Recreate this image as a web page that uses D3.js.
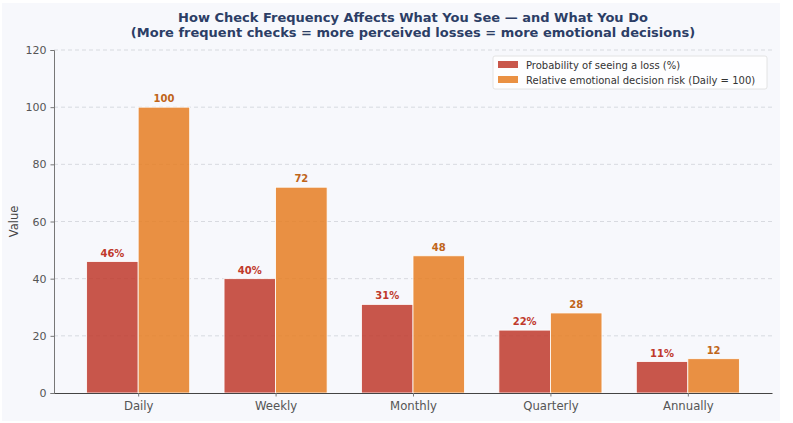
<!DOCTYPE html>
<html>
<head>
<meta charset="utf-8">
<script src="https://cdn.jsdelivr.net/npm/d3@7"></script>
<style>
  body { margin: 0; background: #fff; font-family: "DejaVu Sans", sans-serif; }
</style>
</head>
<body>
<div id="chart"></div>
<script>
var categories = ["Daily", "Weekly", "Monthly", "Quarterly", "Annually"];
var lossProb = [46, 40, 31, 22, 11];
var emotionalRisk = [100, 72, 48, 28, 12];
var seriesNames = ["Probability of seeing a loss (%)", "Relative emotional decision risk (Daily = 100)"];
var yTicks = [0, 20, 40, 60, 80, 100, 120];

var width = 793, height = 423;
var margin = {left: 54, right: 21, top: 50, bottom: 30};
var colors = ["#c0392b", "#e67e22"];
var labelColors = ["#c0392b", "#c0651a"];

var svg = d3.select("#chart").append("svg").attr("width", width).attr("height", height);

// light figure background
svg.append("rect").attr("x", 2).attr("y", 3).attr("width", 778).attr("height", 418).attr("fill", "#f7f8fc");

var x = d3.scaleLinear().domain([-0.6125, 4.6125]).range([margin.left, width - margin.right]);
var y = d3.scaleLinear().domain([0, 120]).range([height - margin.bottom, margin.top]);
var barW = 0.375;

// grid
svg.append("g").selectAll("line").data(yTicks.filter(function(t) { return t > 0; })).enter().append("line")
    .attr("x1", x.range()[0]).attr("x2", x.range()[1])
    .attr("y1", function(d) { return y(d); }).attr("y2", function(d) { return y(d); })
    .attr("stroke", "#cfd2d8").attr("stroke-width", 0.8).attr("stroke-dasharray", "4,3");

var series = [lossProb, emotionalRisk];
series.forEach(function(vals, s) {
    var off = s === 0 ? -barW : 0;
    var g = svg.append("g");
    g.selectAll("rect").data(vals).enter().append("rect")
        .attr("x", function(d, i) { return x(i + off); })
        .attr("width", x(barW) - x(0))
        .attr("y", function(d) { return y(d); })
        .attr("height", function(d) { return y(0) - y(d); })
        .attr("fill", colors[s]).attr("fill-opacity", 0.85)
        .attr("stroke", "#fff").attr("stroke-width", 0.8);
    g.selectAll("text").data(vals).enter().append("text")
        .attr("x", function(d, i) { return x(i + off + barW / 2); })
        .attr("y", function(d) { return y(d) - 5; })
        .attr("text-anchor", "middle")
        .attr("font-size", 10).attr("font-weight", "bold")
        .attr("fill", labelColors[s])
        .text(function(d) { return s === 0 ? d + "%" : d; });
});

// axes
var yAxis = svg.append("g").attr("transform", "translate(" + margin.left + ",0)")
    .call(d3.axisLeft(y).tickValues(yTicks).tickSize(3.5).tickPadding(4));
yAxis.select(".domain").attr("stroke", "#777").attr("stroke-width", 1);
yAxis.selectAll(".tick line").attr("stroke", "#777");
yAxis.selectAll("text").attr("font-size", 11).attr("fill", "#555").attr("font-family", "DejaVu Sans");

var xAxis = svg.append("g").attr("transform", "translate(0," + y(0) + ")")
    .call(d3.axisBottom(x).tickValues(d3.range(categories.length)).tickFormat(function(i) { return categories[i]; }).tickSize(3.5).tickPadding(5).tickSizeOuter(0));
xAxis.select(".domain").attr("stroke", "#444").attr("stroke-width", 1);
xAxis.selectAll(".tick line").attr("stroke", "#777");
xAxis.selectAll("text").attr("font-size", 11.7).attr("fill", "#555").attr("font-family", "DejaVu Sans");

svg.append("text").attr("transform", "translate(18," + ((margin.top + height - margin.bottom) / 2) + ") rotate(-90)")
    .attr("text-anchor", "middle").attr("font-size", 11.5).attr("fill", "#444").text("Value");

// title
var cx = (x.range()[0] + x.range()[1]) / 2;
svg.append("text").attr("x", cx).attr("y", 22).attr("text-anchor", "middle")
    .attr("font-size", 13).attr("font-weight", "bold").attr("fill", "#2c3e66")
    .text("How Check Frequency Affects What You See \u2014 and What You Do");
svg.append("text").attr("x", cx).attr("y", 37).attr("text-anchor", "middle")
    .attr("font-size", 13).attr("font-weight", "bold").attr("fill", "#2c3e66")
    .text("(More frequent checks = more perceived losses = more emotional decisions)");

// legend
var leg = svg.append("g").attr("transform", "translate(493,56)");
leg.append("rect").attr("width", 274).attr("height", 33).attr("rx", 2)
    .attr("fill", "#fff").attr("fill-opacity", 0.85).attr("stroke", "#ddd").attr("stroke-width", 0.8);
seriesNames.forEach(function(n, i) {
    leg.append("rect").attr("x", 5).attr("y", 5 + i * 15).attr("width", 20).attr("height", 7)
        .attr("fill", colors[i]).attr("fill-opacity", 0.85);
    leg.append("text").attr("x", 33).attr("y", 12.5 + i * 15).attr("font-size", 10).attr("fill", "#333").text(n);
});
</script>
</body>
</html>
